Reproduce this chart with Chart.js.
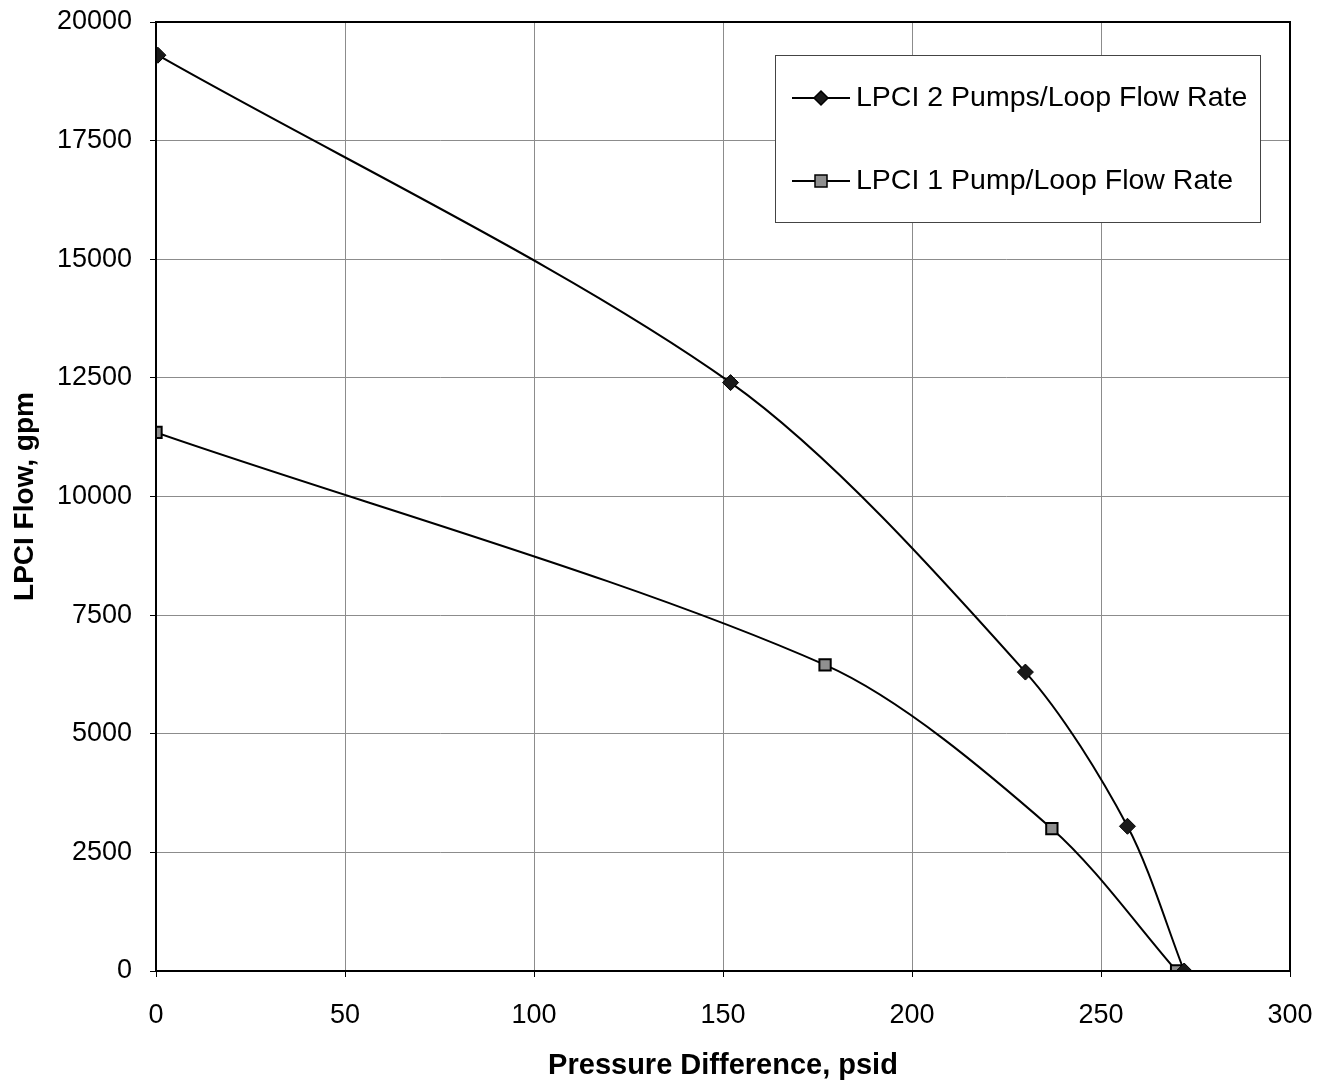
<!DOCTYPE html>
<html>
<head>
<meta charset="utf-8">
<script src="https://cdn.jsdelivr.net/npm/chart.js@4"></script>
<style>
  html, body { margin: 0; padding: 0; background: #fff; }
  #wrap { width: 1328px; height: 1084px; }
</style>
</head>
<body>
<div id="wrap"><canvas id="chartCanvas" width="1328" height="1084"></canvas></div>
<script>
// Data (psid, gpm)
var twoPumpX = [0.5, 152, 230, 257, 272]
var twoPumpY = [19300, 12400, 6300, 3050, 0]
var onePumpX = [0, 177, 237, 270]
var onePumpY = [11350, 6450, 3000, 0]

var twoPumpLabel = "LPCI 2 Pumps/Loop Flow Rate"
var onePumpLabel = "LPCI 1 Pump/Loop Flow Rate"
var xTitle = "Pressure Difference, psid"
var yTitle = "LPCI Flow, gpm"

var fontName = "'Liberation Sans', Arial, sans-serif"

function toPoints(xs, ys) {
    return xs.map((x, i) => ({ x: x, y: ys[i] }))
}

// frame round the plot area + legend box inside it
var framePlugin = {
    id: 'frame',
    afterDraw(chart) {
        var ctx = chart.ctx
        var a = chart.chartArea
        ctx.save()
        ctx.strokeStyle = '#000'
        ctx.lineWidth = 2
        ctx.strokeRect(a.left, a.top, a.right - a.left, a.bottom - a.top)

        // legend
        var bx = 775, by = 55, bw = 485, bh = 167
        ctx.fillStyle = '#fff'
        ctx.fillRect(bx, by, bw, bh)
        ctx.strokeStyle = '#444'
        ctx.lineWidth = 1
        ctx.strokeRect(bx + 0.5, by + 0.5, bw, bh)

        var items = chart.data.datasets
        var rows = [98, 181]
        items.forEach((ds, i) => {
            var y = rows[i]
            ctx.strokeStyle = '#000'
            ctx.lineWidth = 2
            ctx.beginPath()
            ctx.moveTo(792, y)
            ctx.lineTo(850, y)
            ctx.stroke()
            ctx.fillStyle = ds.pointBackgroundColor
            ctx.strokeStyle = '#000'
            ctx.lineWidth = 1.5
            if (ds.pointStyle === 'rectRot') {
                ctx.beginPath()
                ctx.moveTo(821, y - 7)
                ctx.lineTo(828, y)
                ctx.lineTo(821, y + 7)
                ctx.lineTo(814, y)
                ctx.closePath()
                ctx.fill()
                ctx.stroke()
            } else {
                ctx.fillRect(815, y - 6, 12, 12)
                ctx.strokeRect(815, y - 6, 12, 12)
            }
            ctx.fillStyle = '#000'
            ctx.font = '28.5px ' + fontName
            ctx.textBaseline = 'middle'
            ctx.textAlign = 'left'
            ctx.fillText(ds.label, 856, y)
        })
        ctx.restore()
    }
}

var myChart = new Chart(document.getElementById('chartCanvas'), {
    type: 'scatter',
    data: {
        datasets: [
            {
                label: twoPumpLabel,
                data: toPoints(twoPumpX, twoPumpY),
                showLine: true,
                tension: 0.3,
                borderColor: '#000',
                borderWidth: 2,
                pointStyle: 'rectRot',
                pointRadius: 8,
                pointBackgroundColor: '#1a1a1a',
                pointBorderColor: '#000',
                pointBorderWidth: 1
            },
            {
                label: onePumpLabel,
                data: toPoints(onePumpX, onePumpY),
                showLine: true,
                tension: 0.3,
                borderColor: '#000',
                borderWidth: 2,
                pointStyle: 'rect',
                pointRadius: 8,
                pointBackgroundColor: '#8f8f8f',
                pointBorderColor: '#000',
                pointBorderWidth: 2
            }
        ]
    },
    options: {
        responsive: false,
        animation: false,
        layout: { padding: { top: 22, right: 38, left: 0, bottom: 0 } },
        plugins: {
            legend: { display: false },
            tooltip: { enabled: false }
        },
        scales: {
            x: {
                type: 'linear',
                min: 0,
                max: 300,
                ticks: { stepSize: 50, color: '#000', font: { family: fontName, size: 27 }, padding: 22, callback: v => String(v) },
                grid: { color: '#8c8c8c', lineWidth: 1, tickLength: 6, tickColor: '#000' },
                border: { color: '#000', width: 2 },
                title: { display: true, text: xTitle, color: '#000', font: { family: fontName, size: 29, weight: 'bold' }, padding: { top: 0, bottom: 1 } },
                afterFit(scale) {
                    scale.height = 113
                    scale.paddingLeft = 0
                    scale.paddingRight = 0
                }
            },
            y: {
                type: 'linear',
                min: 0,
                max: 20000,
                ticks: { stepSize: 2500, color: '#000', font: { family: fontName, size: 27 }, padding: 18, callback: v => String(v) },
                grid: { color: '#8c8c8c', lineWidth: 1, tickLength: 6, tickColor: '#000' },
                border: { color: '#000', width: 2 },
                title: { display: true, text: yTitle, color: '#000', font: { family: fontName, size: 28, weight: 'bold' }, padding: { top: 8, bottom: 0 } },
                afterFit(scale) {
                    scale.width = 156
                    scale.paddingTop = 0
                    scale.paddingBottom = 0
                }
            }
        }
    },
    plugins: [framePlugin]
})
</script>
</body>
</html>
